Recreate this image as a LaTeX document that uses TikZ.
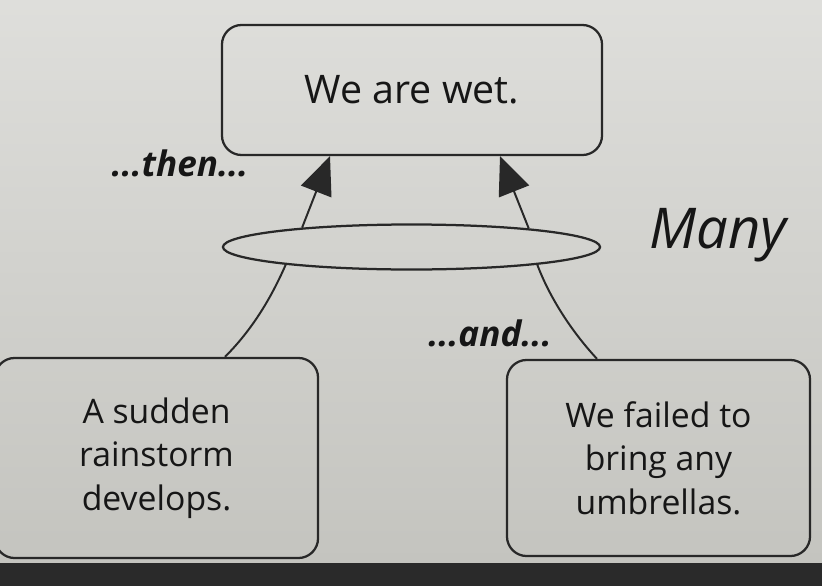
\documentclass[tikz,border=0pt]{standalone}
\usepackage{fontspec}
\setmainfont{Open Sans}
\usetikzlibrary{calc, shapes.geometric, arrows.meta}

\definecolor{paper}{RGB}{214,214,210}
\definecolor{paperdark}{RGB}{196,196,191}
\definecolor{ink}{RGB}{40,40,40}
\definecolor{print}{RGB}{22,22,22}
\definecolor{strip}{RGB}{42,42,42}

\tikzset{
  claim/.style = {draw=ink, line width=1.6pt, rounded corners=14pt,
    align=center, font=\fontsize{24}{31}\selectfont, text=print},
  link/.style  = {draw=ink, line width=1.4pt},
  cue/.style   = {font=\fontsize{25}{28}\selectfont\bfseries\itshape, text=print}
}

\begin{document}
\begin{tikzpicture}[x=0.025cm, y=-0.025cm]

  % Fix the page: the photographed sheet and the dark strip below it

  \useasboundingbox (0,0) rectangle (822,586);
  \shade[top color=paper!80!white, bottom color=paperdark] (0,0) rectangle (822,563);
  \fill[strip] (0,563) rectangle (822,586);

  % The conclusion and the two reasons

  \node[claim, minimum width=9.5cm, minimum height=3.25cm,
    font=\fontsize{28}{32}\selectfont] (wet) at (412,90) {We are wet.};
  \node[claim, minimum width=8.075cm, minimum height=5cm] (storm)
    at (156.5,458) {A sudden\\rainstorm\\develops.};
  \node[claim, minimum width=7.575cm, minimum height=4.9cm] (umbrella)
    at (658.5,458) {We failed to\\bring any\\umbrellas.};

  % The ellipse that joins the reasons

  \node[ellipse, draw=ink, line width=1.6pt, inner sep=0pt,
    minimum width=9.425cm, minimum height=1.125cm] (join) at (411.5,247) {};

  % Free ends of the connectors on the boxes

  \coordinate (wetL) at ($(wet.south)+(-82,0)$);
  \coordinate (wetR) at ($(wet.south)+(88,0)$);
  \coordinate (stormT) at ($(storm.north)+(68.5,0)$);
  \coordinate (umbrellaT) at ($(umbrella.north)+(-61.5,0)$);

  % Arrows up to the conclusion

  \draw[link, -{Triangle[length=27pt, width=23pt]}] (join.170) -- (wetL);
  \draw[link, -{Triangle[length=27pt, width=23pt]}] (join.9) -- (wetR);

  % Curves from the reasons into the ellipse:
  %   diagonal at the boxes, steeper at the ellipse

  \draw[link] (stormT) .. controls ($(stormT)+(28,-28)$)
    and ($(join.188)+(-14,32)$) .. (join.188);
  \draw[link] (umbrellaT) .. controls ($(umbrellaT)+(-26,-28)$)
    and ($(join.352.7)+(12,32)$) .. (join.352.7);

  % Labels

  \node[cue] (then) at (180,163) {...then...};
  \node[cue] (and) at (490,333) {...and...};
  \node[font=\fontsize{40}{40}\selectfont\itshape, text=print] (many)
    at (718,235) {Many};

\end{tikzpicture}
\end{document}
